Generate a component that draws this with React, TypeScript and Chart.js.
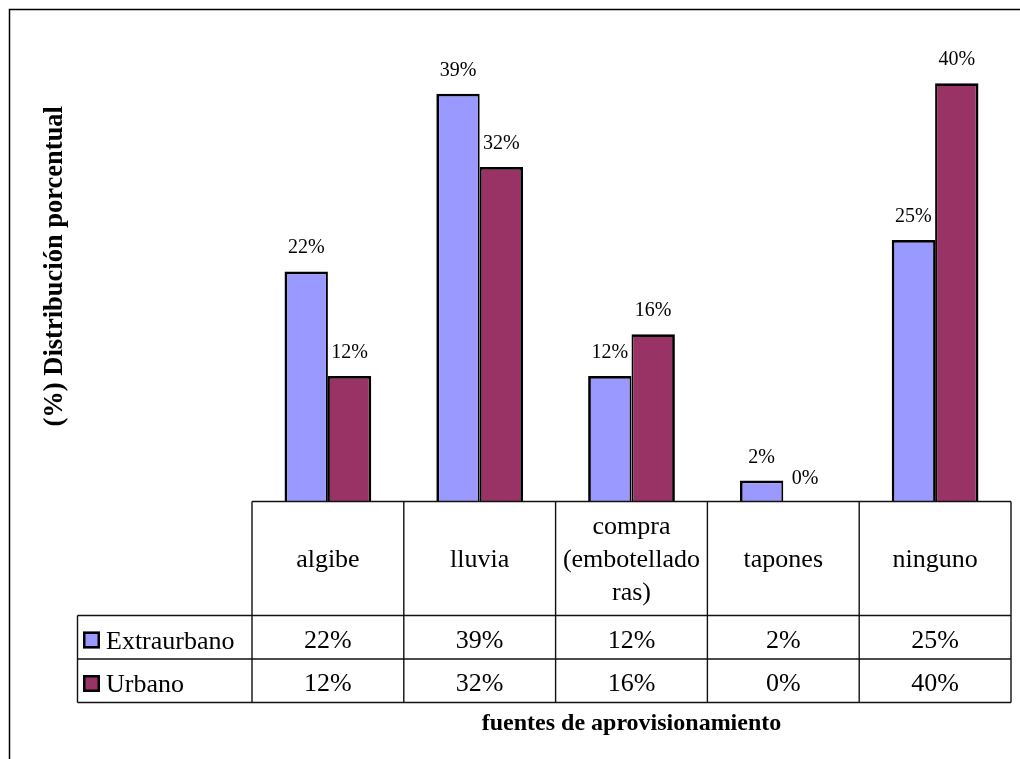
import React, { useEffect, useRef } from "react";
import { Chart, registerables } from "chart.js";

Chart.register(...registerables);

// Water supply sources (header labels may be split across lines)
const categories: (string | string[])[] = [
  "algibe",
  "lluvia",
  ["compra", "(embotellado", "ras)"],
  "tapones",
  "ninguno",
];
const seriesNames = ["Extraurbano", "Urbano"];
const extraurbano = [0.22, 0.39, 0.12, 0.02, 0.25];
const urbano = [0.12, 0.32, 0.16, 0.0, 0.4];
const seriesColors = ["#9999FF", "#993366"];
const xTitle = "fuentes de aprovisionamiento";
const yTitle = "(%) Distribución porcentual";

const FONT = '"Liberation Serif", "Times New Roman", serif';
const pct = (v: number) => `${Math.round(v * 100)}%`;

const HEADER_H = 114;
const ROW_H = 43.5;
const LEGEND_LEFT = 77.5;

const tablePlugin = {
  id: "dataTable",
  beforeDraw(chart: any) {
    const ctx = chart.ctx;
    ctx.save();
    ctx.fillStyle = "#ffffff";
    ctx.fillRect(0, 0, chart.width, chart.height);
    ctx.restore();
  },
  afterDatasetsDraw(chart: any) {
    const ctx = chart.ctx;
    ctx.save();
    ctx.fillStyle = "#000";
    ctx.font = `20px ${FONT}`;
    ctx.textAlign = "center";
    ctx.textBaseline = "alphabetic";
    chart.data.datasets.forEach((ds: any, di: number) => {
      const meta = chart.getDatasetMeta(di);
      meta.data.forEach((bar: any, i: number) => {
        ctx.fillText(pct(ds.data[i]), bar.x, bar.y - 18);
      });
    });
    ctx.restore();
  },
  afterDraw(chart: any) {
    const ctx = chart.ctx;
    const area = chart.chartArea;
    const n = chart.data.labels.length;
    const colW = (area.right - area.left) / n;
    const top = area.bottom;
    const r1 = top + HEADER_H;
    const r2 = r1 + ROW_H;
    const r3 = r2 + ROW_H;

    ctx.save();
    // outer frame of the chart object
    ctx.strokeStyle = "#000";
    ctx.lineWidth = 1.5;
    ctx.beginPath();
    ctx.moveTo(9.5, chart.height);
    ctx.lineTo(9.5, 9.5);
    ctx.lineTo(chart.width, 9.5);
    ctx.stroke();

    // data table grid
    ctx.strokeStyle = "#111";
    ctx.lineWidth = 1.4;
    ctx.beginPath();
    ctx.moveTo(area.left, top);
    ctx.lineTo(area.right, top);
    for (const y of [r1, r2, r3]) {
      ctx.moveTo(LEGEND_LEFT, y);
      ctx.lineTo(area.right, y);
    }
    ctx.moveTo(LEGEND_LEFT, r1);
    ctx.lineTo(LEGEND_LEFT, r3);
    for (let i = 0; i <= n; i++) {
      const x = area.left + i * colW;
      ctx.moveTo(x, top);
      ctx.lineTo(x, r3);
    }
    ctx.stroke();

    // category headers
    ctx.fillStyle = "#000";
    ctx.font = `26px ${FONT}`;
    ctx.textAlign = "center";
    ctx.textBaseline = "alphabetic";
    chart.data.labels.forEach((lab: any, i: number) => {
      const lines: string[] = Array.isArray(lab) ? lab : [lab];
      const cx = area.left + (i + 0.5) * colW;
      const mid = top + 65;
      lines.forEach((ln, k) => {
        ctx.fillText(ln, cx, mid + (k - (lines.length - 1) / 2) * 33);
      });
    });

    // series rows: legend key + values
    const rowTops = [r1, r2];
    chart.data.datasets.forEach((ds: any, di: number) => {
      const rt = rowTops[di];
      ctx.fillStyle = ds.backgroundColor;
      ctx.fillRect(83, rt + 16, 17, 17);
      ctx.strokeStyle = "#000";
      ctx.lineWidth = 2.5;
      ctx.strokeRect(84.25, rt + 17.25, 14.5, 14.5);
      ctx.fillStyle = "#000";
      ctx.textAlign = "left";
      ctx.fillText(ds.label, 106, rt + 33);
      ctx.textAlign = "center";
      ds.data.forEach((v: number, i: number) => {
        ctx.fillText(pct(v), area.left + (i + 0.5) * colW, rt + 32);
      });
    });

    // axis titles
    ctx.font = `bold 24px ${FONT}`;
    ctx.textAlign = "center";
    ctx.fillText(xTitle, (area.left + area.right) / 2, 730);

    ctx.save();
    ctx.translate(55, (area.top + area.bottom) / 2);
    ctx.rotate(-Math.PI / 2);
    ctx.font = `bold 26.5px ${FONT}`;
    ctx.textBaseline = "middle";
    ctx.fillText(yTitle, 0, 0);
    ctx.restore();

    ctx.restore();
  },
};

export default function App() {
  const canvasRef = useRef<HTMLCanvasElement | null>(null);

  useEffect(() => {
    if (!canvasRef.current) return;
    const chart = new Chart(canvasRef.current, {
      type: "bar",
      data: {
        labels: categories,
        datasets: [
          {
            label: seriesNames[0],
            data: extraurbano,
            backgroundColor: seriesColors[0],
            borderColor: "#000",
            borderWidth: { top: 2.75, left: 2.75, right: 2, bottom: 0 },
            borderSkipped: "start",
          },
          {
            label: seriesNames[1],
            data: urbano,
            backgroundColor: seriesColors[1],
            borderColor: "#000",
            borderWidth: { top: 2.75, left: 2, right: 2.75, bottom: 0 },
            borderSkipped: "start",
          },
        ],
      },
      options: {
        responsive: false,
        animation: false,
        layout: { padding: { left: 252, right: 9, top: 31, bottom: 257.5 } },
        plugins: {
          legend: { display: false },
          tooltip: { enabled: false },
          title: { display: false },
        },
        datasets: {
          bar: { categoryPercentage: 2 / 3.5, barPercentage: 1 },
        },
        scales: {
          x: { display: false, offset: true, grid: { display: false } },
          y: { display: false, min: 0, max: 0.45 },
        },
      },
      plugins: [tablePlugin],
    } as any);
    return () => chart.destroy();
  }, []);

  return (
    <div style={{ position: "absolute", left: 0, top: 0, width: 1020, height: 759 }}>
      <canvas ref={canvasRef} width={1020} height={759} />
    </div>
  );
}
